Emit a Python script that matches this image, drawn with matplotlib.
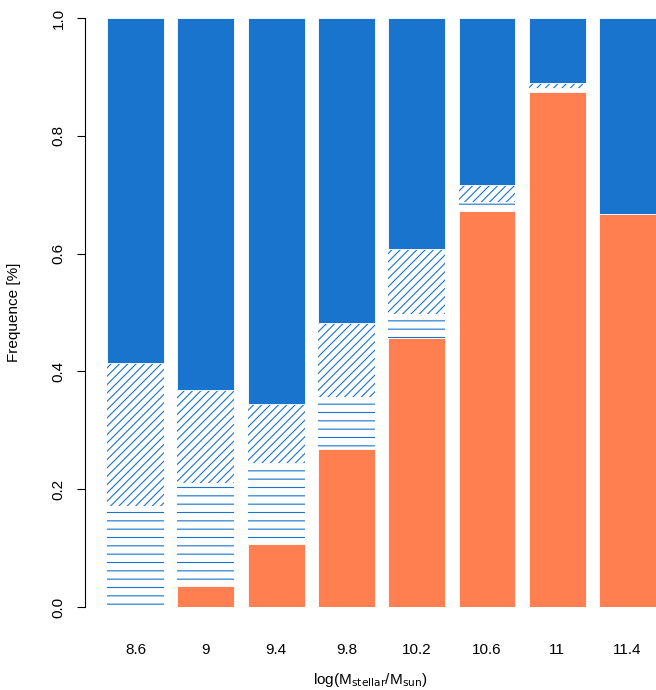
import matplotlib
matplotlib.use("Agg")
import matplotlib.pyplot as plt
import numpy as np

plt.rcParams['font.family'] = ['Liberation Sans', 'DejaVu Sans']
plt.rcParams['hatch.linewidth'] = 0.8

labels = ["8.6", "9", "9.4", "9.8", "10.2", "10.6", "11", "11.4"]
orange = [0.0, 0.035, 0.107, 0.268, 0.457, 0.672, 0.875, 0.667]
horiz = [0.172, 0.175, 0.138, 0.089, 0.040, 0.016, 0.007, 0.0]
diag = [0.243, 0.158, 0.100, 0.126, 0.110, 0.029, 0.008, 0.0]
blue = [1 - o - h - d for o, h, d in zip(orange, horiz, diag)]

fig = plt.figure(figsize=(6.56, 6.9), dpi=100)
ax = fig.add_axes([85/656, 1-607/690, 1-85/656, (607-18)/690])
x = np.arange(len(labels))
w = 0.81
b = np.zeros(len(labels))
ax.bar(x, orange, w, bottom=b, color='#FF7F50', edgecolor='white', linewidth=0.6)
b += orange
ax.bar(x, horiz, w, bottom=b, color='white', edgecolor='#1874CD', hatch='--', linewidth=0)
b += horiz
ax.bar(x, diag, w, bottom=b, color='white', edgecolor='#1874CD', hatch='////', linewidth=0)
b += diag
ax.bar(x, blue, w, bottom=b, color='#1874CD', edgecolor='white', linewidth=0.6)

ax.set_xlim((85-135.5)/70.3, (656-135.5)/70.3)
ax.set_ylim(0, 1)
for s in ['top', 'right', 'bottom']:
    ax.spines[s].set_visible(False)
ax.set_yticks([0, 0.2, 0.4, 0.6, 0.8, 1.0])
ax.set_yticklabels(["0.0", "0.2", "0.4", "0.6", "0.8", "1.0"], rotation=90, va='center', fontsize=11)
ax.tick_params(axis='y', length=6, pad=8)
ax.set_xticks(x)
ax.set_xticklabels(labels, fontsize=11)
ax.tick_params(axis='x', length=0, pad=26)
ax.set_ylabel("Frequence [%]", fontsize=11, labelpad=22)
ax.set_xlabel(r"log(M$_{\mathrm{stellar}}$/M$_{\mathrm{sun}}$)", fontsize=11, labelpad=10)
fig.savefig("out.png", dpi=100)
